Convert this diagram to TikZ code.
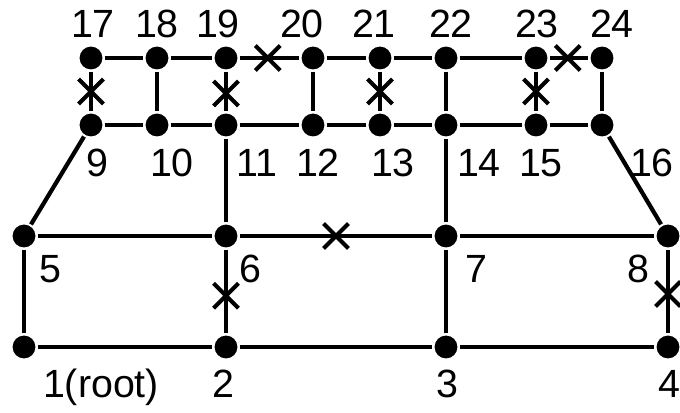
\documentclass[tikz,border=0pt]{standalone}
\usepackage{fontspec}
\setmainfont{Liberation Sans}
\usetikzlibrary{shapes.misc}

\begin{document}
\begin{tikzpicture}[x=0.025cm,y=-0.025cm,line width=3pt,
  vtx/.style={circle,fill,inner sep=0pt,minimum size=0.57cm},
  cut/.style={cross out,draw,line width=2.9pt,inner sep=0pt,minimum size=0.52cm},
  lbl/.style={anchor=base,inner sep=0pt,font=\fontsize{28}{30}\selectfont}]
  \useasboundingbox (0,0) rectangle (680,413);
  % vertices, bottom to top
  \node[vtx] (n1) at (24,347) {};  \node[vtx] (n2) at (226,347) {};
  \node[vtx] (n3) at (446,347) {}; \node[vtx] (n4) at (668,347) {};
  \node[vtx] (n5) at (24,236) {};  \node[vtx] (n6) at (226,236) {};
  \node[vtx] (n7) at (446,236) {}; \node[vtx] (n8) at (668,236) {};
  \node[vtx] (n9) at (91,125) {};   \node[vtx] (n10) at (157,125) {};
  \node[vtx] (n11) at (226,125) {}; \node[vtx] (n12) at (313,125) {};
  \node[vtx] (n13) at (380,125) {}; \node[vtx] (n14) at (446,125) {};
  \node[vtx] (n15) at (536,125) {}; \node[vtx] (n16) at (602,125) {};
  \node[vtx] (n17) at (91,58) {};   \node[vtx] (n18) at (157,58) {};
  \node[vtx] (n19) at (226,58) {};  \node[vtx] (n20) at (313,58) {};
  \node[vtx] (n21) at (380,58) {};  \node[vtx] (n22) at (446,58) {};
  \node[vtx] (n23) at (536,58) {};  \node[vtx] (n24) at (602,58) {};
  % labels
  \node[lbl] (l17) at (93,38) {17};  \node[lbl] (l18) at (157,38) {18};
  \node[lbl] (l19) at (218,38) {19}; \node[lbl] (l20) at (302,38) {20};
  \node[lbl] (l21) at (374,38) {21}; \node[lbl] (l22) at (451,38) {22};
  \node[lbl] (l23) at (537,38) {23}; \node[lbl] (l24) at (612,38) {24};
  \node[lbl] (l9) at (97,177) {9};    \node[lbl] (l10) at (172,177) {10};
  \node[lbl] (l11) at (257,177) {11}; \node[lbl] (l12) at (318,177) {12};
  \node[lbl] (l13) at (393,177) {13}; \node[lbl] (l14) at (479,177) {14};
  \node[lbl] (l15) at (541,177) {15}; \node[lbl] (l16) at (652,177) {16};
  \node[lbl] (l5) at (50,283) {5};  \node[lbl] (l6) at (250,283) {6};
  \node[lbl] (l7) at (476,283) {7}; \node[lbl] (l8) at (638,283) {8};
  \node[lbl] (l1) at (101,398) {1(root)}; \node[lbl] (l2) at (223,398) {2};
  \node[lbl] (l3) at (447,398) {3};       \node[lbl] (l4) at (669,398) {4};
  % edges
  \draw (n1) -- (n2) -- (n3) -- (n4);
  \draw (n1) -- (n5);
  \draw (n6) -- node[cut,pos=.55]{} (n2);
  \draw (n3) -- (n7);
  \draw (n8) -- node[cut,pos=.53]{} (n4);
  \draw (n5) -- (n6);
  \draw (n6) -- node[cut]{} (n7);
  \draw (n7) -- (n8);
  \draw (n5) -- (n9);
  \draw (n6) -- (n11);
  \draw (n7) -- (n14);
  \draw (n8) -- (n16);
  \draw (n9) -- (n10) -- (n11) -- (n12) -- (n13) -- (n14) -- (n15) -- (n16);
  \draw (n17) -- node[cut]{} (n9);
  \draw (n18) -- (n10);
  \draw (n19) -- node[cut,pos=.55]{} (n11);
  \draw (n20) -- (n12);
  \draw (n21) -- node[cut]{} (n13);
  \draw (n22) -- (n14);
  \draw (n23) -- node[cut]{} (n15);
  \draw (n24) -- (n16);
  \draw (n17) -- (n18) -- (n19);
  \draw (n19) -- node[cut,pos=.47]{} (n20);
  \draw (n20) -- (n21) -- (n22) -- (n23);
  \draw (n23) -- node[cut,pos=.47]{} (n24);
\end{tikzpicture}
\end{document}
